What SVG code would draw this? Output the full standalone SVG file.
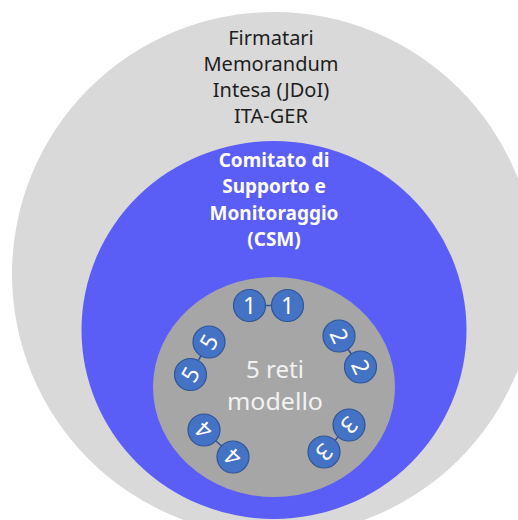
<svg xmlns="http://www.w3.org/2000/svg" width="518" height="520" viewBox="0 0 518 520">
<style>
.lbl{font-family:"Noto Sans","Open Sans","DejaVu Sans",sans-serif;text-anchor:middle}
.top{font-size:20px;fill:#1e1e1e}
.csm{font-size:19px;font-weight:bold;fill:#ffffff}
.mid{font-size:24px;fill:#f2f2f2}
.dot{fill:#4472c4;stroke:#2f5597;stroke-width:1.2}
.num{font-family:"Noto Sans","Open Sans","DejaVu Sans",sans-serif;font-size:23px;fill:#ffffff;text-anchor:middle}
.link{stroke:#2f5597;stroke-width:1.5}
</style>
<rect width="518" height="520" fill="#ffffff"/>
<g id="firmatari">
<circle cx="274" cy="274" r="262" fill="#d9d9d9"/>
<text class="lbl top" x="271" y="45">Firmatari</text>
<text class="lbl top" x="271" y="71">Memorandum</text>
<text class="lbl top" x="271" y="97">Intesa (JDoI)</text>
<text class="lbl top" x="271" y="123">ITA-GER</text>
</g>
<g id="csm">
<ellipse cx="274" cy="330" rx="192.5" ry="189" fill="#5a5df6"/>
<text class="lbl csm" x="274" y="167">Comitato di</text>
<text class="lbl csm" x="274" y="193">Supporto e</text>
<text class="lbl csm" x="274" y="220">Monitoraggio</text>
<text class="lbl csm" x="274" y="246">(CSM)</text>
</g>
<g id="reti">
<ellipse cx="274" cy="387" rx="121" ry="110" fill="#a6a6a6"/>
<text class="lbl mid" x="275" y="378">5 reti</text>
<text class="lbl mid" x="275" y="410" textLength="96" lengthAdjust="spacingAndGlyphs">modello</text>
</g>
<g id="connectors">
<line class="link" x1="265" y1="305.5" x2="272" y2="305.5"/>
<line class="link" x1="347.5" y1="348.5" x2="352" y2="355"/>
<line class="link" x1="338" y1="437" x2="335" y2="440.5"/>
<line class="link" x1="222" y1="446.5" x2="215.5" y2="440.5"/>
<line class="link" x1="198" y1="361" x2="201.5" y2="355"/>
</g>
<g id="rete1a"><circle class="dot" cx="249.5" cy="305.5" r="16"/><text class="num" x="249.5" y="313.5">1</text></g>
<g id="rete1b"><circle class="dot" cx="287.5" cy="305.5" r="16"/><text class="num" x="287.5" y="313.5">1</text></g>
<g id="rete2a"><circle class="dot" cx="339" cy="336" r="16"/><text class="num" transform="rotate(65 339 336)" x="339" y="344">2</text></g>
<g id="rete2b"><circle class="dot" cx="360.5" cy="367" r="16"/><text class="num" transform="rotate(65 360.5 367)" x="360.5" y="375">2</text></g>
<g id="rete3a"><circle class="dot" cx="349" cy="425" r="16"/><text class="num" transform="rotate(135 349 425)" x="349" y="433">3</text></g>
<g id="rete3b"><circle class="dot" cx="324" cy="452" r="16"/><text class="num" transform="rotate(135 324 452)" x="324" y="460">3</text></g>
<g id="rete4a"><circle class="dot" cx="204" cy="430" r="16"/><text class="num" transform="rotate(222 204 430)" x="204" y="438">4</text></g>
<g id="rete4b"><circle class="dot" cx="233" cy="457" r="16"/><text class="num" transform="rotate(222 233 457)" x="233" y="465">4</text></g>
<g id="rete5a"><circle class="dot" cx="209" cy="342" r="16"/><text class="num" transform="rotate(300 209 342)" x="209" y="350">5</text></g>
<g id="rete5b"><circle class="dot" cx="190.5" cy="374.5" r="16"/><text class="num" transform="rotate(300 190.5 374.5)" x="190.5" y="382.5">5</text></g>
</svg>
